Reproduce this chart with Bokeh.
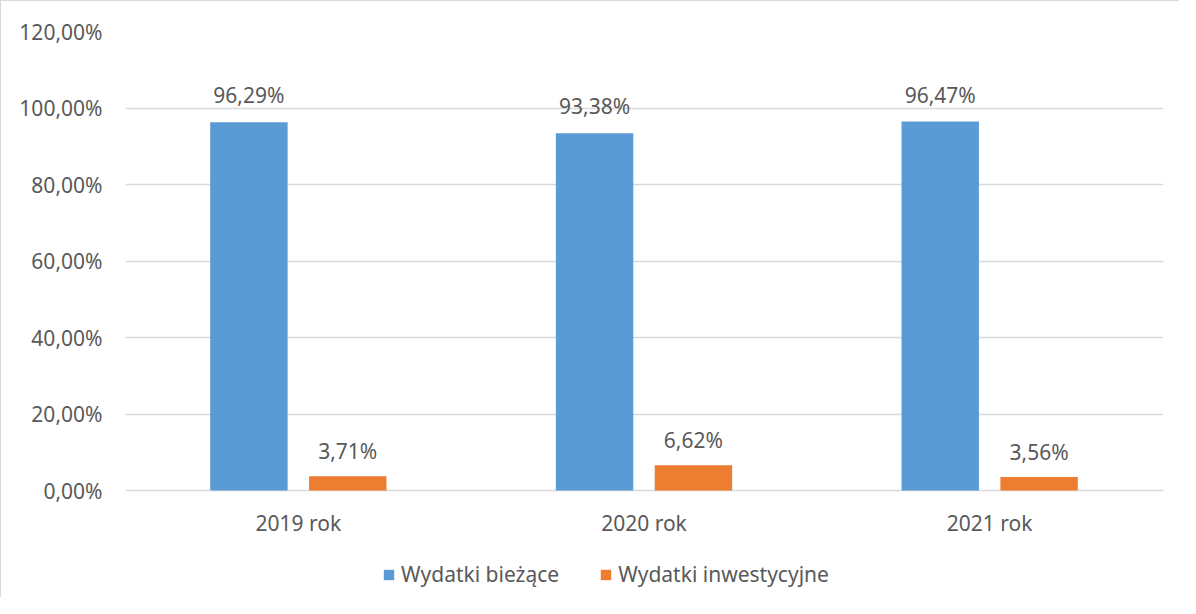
from bokeh.plotting import figure
from bokeh.models import ColumnDataSource, Legend, LegendItem, FixedTicker, Range1d, LabelSet
from bokeh.core.properties import value
from bokeh.embed import file_html
from bokeh.resources import INLINE

categories = ["2019 rok", "2020 rok", "2021 rok"]
biezace = [96.29, 93.38, 96.47]
inwestycyjne = [3.71, 6.62, 3.56]
y_ticks = [0, 20, 40, 60, 80, 100, 120]
series_names = ["Wydatki bieżące", "Wydatki inwestycyjne"]
colors = ["#5B9BD5", "#ED7D31"]

FONT = "Noto Sans"
FS = "21px"
TXT = "#595959"

# layout constants (pixels)
W, H = 1179, 597
TOP_PX, ZERO_PX = 30, 489
Y_MAX = 120
Y_MIN = -Y_MAX * (H - ZERO_PX) / (ZERO_PX - TOP_PX)

def pl(v):
    return ("%.2f" % v).replace(".", ",") + "%"

centers = [i + 0.5 for i in range(len(categories))]
off = 0.143
bw = 0.224

src1 = ColumnDataSource(dict(x=[c - off for c in centers], y=biezace, lab=[pl(v) for v in biezace]))
src2 = ColumnDataSource(dict(x=[c + off for c in centers], y=inwestycyjne, lab=[pl(v) for v in inwestycyjne]))
srcx = ColumnDataSource(dict(x=centers, y=[0] * len(centers), lab=categories))

p = figure(width=W, height=H, output_backend="svg", toolbar_location=None,
           x_range=Range1d(0, 3 * (W - 17 - 124) / (W - 18 - 124)), y_range=Range1d(Y_MIN, Y_MAX),
           min_border_left=124, min_border_right=17, min_border_top=TOP_PX, min_border_bottom=0,
           styles={"border-left": "1px solid #d9d9d9", "border-top": "1px solid #d9d9d9"})
p.outline_line_color = None
p.xaxis.visible = False

r1 = p.vbar(x="x", top="y", width=bw, source=src1, fill_color=colors[0], line_color=None)
r2 = p.vbar(x="x", top="y", width=bw, source=src2, fill_color=colors[1], line_color=None)

for s, yo in ((src1, 27), (src2, 25)):
    p.add_layout(LabelSet(x="x", y="y", text="lab", source=s, text_align="center",
                          text_baseline="middle", y_offset=yo, text_font=value(FONT),
                          text_font_size=FS, text_color=TXT))

p.add_layout(LabelSet(x="x", y="y", text="lab", source=srcx, text_align="center",
                      text_baseline="middle", y_offset=-32, text_font=value(FONT),
                      text_font_size=FS, text_color=TXT))

p.xgrid.grid_line_color = None
p.ygrid.grid_line_color = "#d9d9d9"
p.ygrid.grid_line_width = 1.3
p.ygrid.ticker = FixedTicker(ticks=y_ticks)

p.yaxis.ticker = FixedTicker(ticks=y_ticks)
p.yaxis.major_label_overrides = {t: pl(t) for t in y_ticks}
p.yaxis.axis_line_color = None
p.yaxis.major_tick_line_color = None
p.yaxis.minor_tick_line_color = None
p.yaxis.major_label_standoff = 17
p.yaxis.major_label_text_font = FONT
p.yaxis.major_label_text_font_size = FS
p.yaxis.major_label_text_color = TXT

legend = Legend(items=[LegendItem(label=series_names[0], renderers=[r1]),
                       LegendItem(label=series_names[1], renderers=[r2])],
                orientation="horizontal", location=(257, 10),
                label_text_font=FONT, label_text_font_size=FS, label_text_color=TXT,
                glyph_width=13, glyph_height=13, spacing=40, label_standoff=6,
                border_line_color=None, background_fill_alpha=0, margin=0, padding=4)
p.add_layout(legend)

open("out.html", "w").write(file_html(p, INLINE))
